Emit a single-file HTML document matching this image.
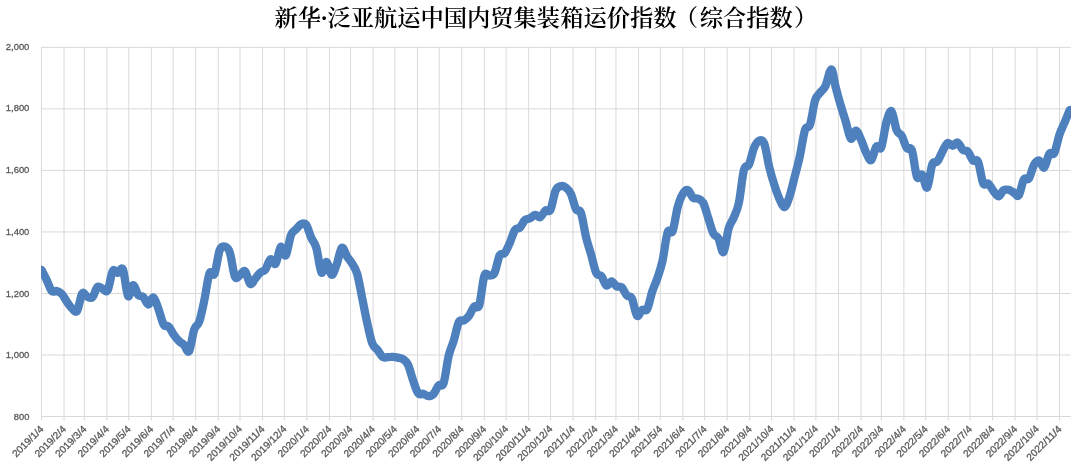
<!DOCTYPE html>
<html lang="zh-CN">
<head>
<meta charset="utf-8">
<title>新华·泛亚航运中国内贸集装箱运价指数（综合指数）</title>
<style>
html,body{margin:0;padding:0;background:#fff;}
body{width:1080px;height:464px;overflow:hidden;}
svg{display:block;will-change:transform;}
.t{font-family:"Liberation Serif","Noto Serif CJK SC",serif;font-weight:600;font-size:23.27px;fill:#000;}
.l{font-family:"Liberation Sans","Noto Sans CJK SC",sans-serif;font-size:9.4px;fill:#595959;stroke:#595959;stroke-width:0.3px;}
.x{font-size:10px;}
</style>
</head>
<body>
<svg width="1080" height="464" viewBox="0 0 1080 464">
<rect width="1080" height="464" fill="#fff"/>
<text class="t" x="274.4" y="26.2">新华<tspan dx="-0.6">·</tspan><tspan dx="-0.6">泛亚航运中国内贸集装箱运价指数</tspan><tspan dx="-1.8">（</tspan><tspan dx="1.8">综合指数</tspan><tspan dx="1.3">）</tspan></text>
<g stroke="#d9d9d9" stroke-width="1" fill="none">
<line x1="41.00" y1="47.40" x2="1070.75" y2="47.40"/>
<line x1="41.00" y1="108.92" x2="1070.75" y2="108.92"/>
<line x1="41.00" y1="170.43" x2="1070.75" y2="170.43"/>
<line x1="41.00" y1="231.95" x2="1070.75" y2="231.95"/>
<line x1="41.00" y1="293.47" x2="1070.75" y2="293.47"/>
<line x1="41.00" y1="354.98" x2="1070.75" y2="354.98"/>
<line x1="41.00" y1="416.50" x2="1070.75" y2="416.50"/>
<line x1="41.50" y1="47.40" x2="41.50" y2="420.50"/>
<line x1="64.04" y1="47.40" x2="64.04" y2="420.50"/>
<line x1="84.40" y1="47.40" x2="84.40" y2="420.50"/>
<line x1="106.94" y1="47.40" x2="106.94" y2="420.50"/>
<line x1="128.76" y1="47.40" x2="128.76" y2="420.50"/>
<line x1="151.30" y1="47.40" x2="151.30" y2="420.50"/>
<line x1="173.11" y1="47.40" x2="173.11" y2="420.50"/>
<line x1="195.65" y1="47.40" x2="195.65" y2="420.50"/>
<line x1="218.20" y1="47.40" x2="218.20" y2="420.50"/>
<line x1="240.01" y1="47.40" x2="240.01" y2="420.50"/>
<line x1="262.55" y1="47.40" x2="262.55" y2="420.50"/>
<line x1="284.36" y1="47.40" x2="284.36" y2="420.50"/>
<line x1="306.91" y1="47.40" x2="306.91" y2="420.50"/>
<line x1="329.45" y1="47.40" x2="329.45" y2="420.50"/>
<line x1="350.53" y1="47.40" x2="350.53" y2="420.50"/>
<line x1="373.08" y1="47.40" x2="373.08" y2="420.50"/>
<line x1="394.89" y1="47.40" x2="394.89" y2="420.50"/>
<line x1="417.43" y1="47.40" x2="417.43" y2="420.50"/>
<line x1="439.25" y1="47.40" x2="439.25" y2="420.50"/>
<line x1="461.79" y1="47.40" x2="461.79" y2="420.50"/>
<line x1="484.33" y1="47.40" x2="484.33" y2="420.50"/>
<line x1="506.14" y1="47.40" x2="506.14" y2="420.50"/>
<line x1="528.68" y1="47.40" x2="528.68" y2="420.50"/>
<line x1="550.50" y1="47.40" x2="550.50" y2="420.50"/>
<line x1="573.04" y1="47.40" x2="573.04" y2="420.50"/>
<line x1="595.58" y1="47.40" x2="595.58" y2="420.50"/>
<line x1="615.94" y1="47.40" x2="615.94" y2="420.50"/>
<line x1="638.48" y1="47.40" x2="638.48" y2="420.50"/>
<line x1="660.30" y1="47.40" x2="660.30" y2="420.50"/>
<line x1="682.84" y1="47.40" x2="682.84" y2="420.50"/>
<line x1="704.65" y1="47.40" x2="704.65" y2="420.50"/>
<line x1="727.19" y1="47.40" x2="727.19" y2="420.50"/>
<line x1="749.73" y1="47.40" x2="749.73" y2="420.50"/>
<line x1="771.55" y1="47.40" x2="771.55" y2="420.50"/>
<line x1="794.09" y1="47.40" x2="794.09" y2="420.50"/>
<line x1="815.90" y1="47.40" x2="815.90" y2="420.50"/>
<line x1="838.45" y1="47.40" x2="838.45" y2="420.50"/>
<line x1="860.99" y1="47.40" x2="860.99" y2="420.50"/>
<line x1="881.35" y1="47.40" x2="881.35" y2="420.50"/>
<line x1="903.89" y1="47.40" x2="903.89" y2="420.50"/>
<line x1="925.70" y1="47.40" x2="925.70" y2="420.50"/>
<line x1="948.24" y1="47.40" x2="948.24" y2="420.50"/>
<line x1="970.06" y1="47.40" x2="970.06" y2="420.50"/>
<line x1="992.60" y1="47.40" x2="992.60" y2="420.50"/>
<line x1="1015.14" y1="47.40" x2="1015.14" y2="420.50"/>
<line x1="1036.95" y1="47.40" x2="1036.95" y2="420.50"/>
<line x1="1059.50" y1="47.40" x2="1059.50" y2="420.50"/>
</g>
<text class="l" x="29.35" y="49.55" text-anchor="end" textLength="23.50" lengthAdjust="spacingAndGlyphs">2,000</text>
<text class="l" x="29.35" y="111.30" text-anchor="end" textLength="23.50" lengthAdjust="spacingAndGlyphs">1,800</text>
<text class="l" x="29.35" y="173.05" text-anchor="end" textLength="23.50" lengthAdjust="spacingAndGlyphs">1,600</text>
<text class="l" x="29.35" y="234.80" text-anchor="end" textLength="23.50" lengthAdjust="spacingAndGlyphs">1,400</text>
<text class="l" x="29.35" y="296.55" text-anchor="end" textLength="23.50" lengthAdjust="spacingAndGlyphs">1,200</text>
<text class="l" x="29.35" y="358.30" text-anchor="end" textLength="23.50" lengthAdjust="spacingAndGlyphs">1,000</text>
<text class="l" x="29.35" y="420.05" text-anchor="end" textLength="15.60" lengthAdjust="spacingAndGlyphs">800</text>
<text class="l x" transform="translate(41.70 427.10) rotate(-45)" text-anchor="end" y="3.60" textLength="39.60" lengthAdjust="spacingAndGlyphs">2019/1/4</text>
<text class="l x" transform="translate(64.24 427.10) rotate(-45)" text-anchor="end" y="3.60" textLength="39.60" lengthAdjust="spacingAndGlyphs">2019/2/4</text>
<text class="l x" transform="translate(84.60 427.10) rotate(-45)" text-anchor="end" y="3.60" textLength="39.60" lengthAdjust="spacingAndGlyphs">2019/3/4</text>
<text class="l x" transform="translate(107.14 427.10) rotate(-45)" text-anchor="end" y="3.60" textLength="39.60" lengthAdjust="spacingAndGlyphs">2019/4/4</text>
<text class="l x" transform="translate(128.96 427.10) rotate(-45)" text-anchor="end" y="3.60" textLength="39.60" lengthAdjust="spacingAndGlyphs">2019/5/4</text>
<text class="l x" transform="translate(151.50 427.10) rotate(-45)" text-anchor="end" y="3.60" textLength="39.60" lengthAdjust="spacingAndGlyphs">2019/6/4</text>
<text class="l x" transform="translate(173.31 427.10) rotate(-45)" text-anchor="end" y="3.60" textLength="39.60" lengthAdjust="spacingAndGlyphs">2019/7/4</text>
<text class="l x" transform="translate(195.85 427.10) rotate(-45)" text-anchor="end" y="3.60" textLength="39.60" lengthAdjust="spacingAndGlyphs">2019/8/4</text>
<text class="l x" transform="translate(218.40 427.10) rotate(-45)" text-anchor="end" y="3.60" textLength="39.60" lengthAdjust="spacingAndGlyphs">2019/9/4</text>
<text class="l x" transform="translate(240.21 427.10) rotate(-45)" text-anchor="end" y="3.60" textLength="44.90" lengthAdjust="spacingAndGlyphs">2019/10/4</text>
<text class="l x" transform="translate(262.75 427.10) rotate(-45)" text-anchor="end" y="3.60" textLength="44.90" lengthAdjust="spacingAndGlyphs">2019/11/4</text>
<text class="l x" transform="translate(284.56 427.10) rotate(-45)" text-anchor="end" y="3.60" textLength="44.90" lengthAdjust="spacingAndGlyphs">2019/12/4</text>
<text class="l x" transform="translate(307.11 427.10) rotate(-45)" text-anchor="end" y="3.60" textLength="39.60" lengthAdjust="spacingAndGlyphs">2020/1/4</text>
<text class="l x" transform="translate(329.65 427.10) rotate(-45)" text-anchor="end" y="3.60" textLength="39.60" lengthAdjust="spacingAndGlyphs">2020/2/4</text>
<text class="l x" transform="translate(350.73 427.10) rotate(-45)" text-anchor="end" y="3.60" textLength="39.60" lengthAdjust="spacingAndGlyphs">2020/3/4</text>
<text class="l x" transform="translate(373.28 427.10) rotate(-45)" text-anchor="end" y="3.60" textLength="39.60" lengthAdjust="spacingAndGlyphs">2020/4/4</text>
<text class="l x" transform="translate(395.09 427.10) rotate(-45)" text-anchor="end" y="3.60" textLength="39.60" lengthAdjust="spacingAndGlyphs">2020/5/4</text>
<text class="l x" transform="translate(417.63 427.10) rotate(-45)" text-anchor="end" y="3.60" textLength="39.60" lengthAdjust="spacingAndGlyphs">2020/6/4</text>
<text class="l x" transform="translate(439.45 427.10) rotate(-45)" text-anchor="end" y="3.60" textLength="39.60" lengthAdjust="spacingAndGlyphs">2020/7/4</text>
<text class="l x" transform="translate(461.99 427.10) rotate(-45)" text-anchor="end" y="3.60" textLength="39.60" lengthAdjust="spacingAndGlyphs">2020/8/4</text>
<text class="l x" transform="translate(484.53 427.10) rotate(-45)" text-anchor="end" y="3.60" textLength="39.60" lengthAdjust="spacingAndGlyphs">2020/9/4</text>
<text class="l x" transform="translate(506.34 427.10) rotate(-45)" text-anchor="end" y="3.60" textLength="44.90" lengthAdjust="spacingAndGlyphs">2020/10/4</text>
<text class="l x" transform="translate(528.88 427.10) rotate(-45)" text-anchor="end" y="3.60" textLength="44.90" lengthAdjust="spacingAndGlyphs">2020/11/4</text>
<text class="l x" transform="translate(550.70 427.10) rotate(-45)" text-anchor="end" y="3.60" textLength="44.90" lengthAdjust="spacingAndGlyphs">2020/12/4</text>
<text class="l x" transform="translate(573.24 427.10) rotate(-45)" text-anchor="end" y="3.60" textLength="39.60" lengthAdjust="spacingAndGlyphs">2021/1/4</text>
<text class="l x" transform="translate(595.78 427.10) rotate(-45)" text-anchor="end" y="3.60" textLength="39.60" lengthAdjust="spacingAndGlyphs">2021/2/4</text>
<text class="l x" transform="translate(616.14 427.10) rotate(-45)" text-anchor="end" y="3.60" textLength="39.60" lengthAdjust="spacingAndGlyphs">2021/3/4</text>
<text class="l x" transform="translate(638.68 427.10) rotate(-45)" text-anchor="end" y="3.60" textLength="39.60" lengthAdjust="spacingAndGlyphs">2021/4/4</text>
<text class="l x" transform="translate(660.50 427.10) rotate(-45)" text-anchor="end" y="3.60" textLength="39.60" lengthAdjust="spacingAndGlyphs">2021/5/4</text>
<text class="l x" transform="translate(683.04 427.10) rotate(-45)" text-anchor="end" y="3.60" textLength="39.60" lengthAdjust="spacingAndGlyphs">2021/6/4</text>
<text class="l x" transform="translate(704.85 427.10) rotate(-45)" text-anchor="end" y="3.60" textLength="39.60" lengthAdjust="spacingAndGlyphs">2021/7/4</text>
<text class="l x" transform="translate(727.39 427.10) rotate(-45)" text-anchor="end" y="3.60" textLength="39.60" lengthAdjust="spacingAndGlyphs">2021/8/4</text>
<text class="l x" transform="translate(749.93 427.10) rotate(-45)" text-anchor="end" y="3.60" textLength="39.60" lengthAdjust="spacingAndGlyphs">2021/9/4</text>
<text class="l x" transform="translate(771.75 427.10) rotate(-45)" text-anchor="end" y="3.60" textLength="44.90" lengthAdjust="spacingAndGlyphs">2021/10/4</text>
<text class="l x" transform="translate(794.29 427.10) rotate(-45)" text-anchor="end" y="3.60" textLength="44.90" lengthAdjust="spacingAndGlyphs">2021/11/4</text>
<text class="l x" transform="translate(816.10 427.10) rotate(-45)" text-anchor="end" y="3.60" textLength="44.90" lengthAdjust="spacingAndGlyphs">2021/12/4</text>
<text class="l x" transform="translate(838.65 427.10) rotate(-45)" text-anchor="end" y="3.60" textLength="39.60" lengthAdjust="spacingAndGlyphs">2022/1/4</text>
<text class="l x" transform="translate(861.19 427.10) rotate(-45)" text-anchor="end" y="3.60" textLength="39.60" lengthAdjust="spacingAndGlyphs">2022/2/4</text>
<text class="l x" transform="translate(881.55 427.10) rotate(-45)" text-anchor="end" y="3.60" textLength="39.60" lengthAdjust="spacingAndGlyphs">2022/3/4</text>
<text class="l x" transform="translate(904.09 427.10) rotate(-45)" text-anchor="end" y="3.60" textLength="39.60" lengthAdjust="spacingAndGlyphs">2022/4/4</text>
<text class="l x" transform="translate(925.90 427.10) rotate(-45)" text-anchor="end" y="3.60" textLength="39.60" lengthAdjust="spacingAndGlyphs">2022/5/4</text>
<text class="l x" transform="translate(948.44 427.10) rotate(-45)" text-anchor="end" y="3.60" textLength="39.60" lengthAdjust="spacingAndGlyphs">2022/6/4</text>
<text class="l x" transform="translate(970.26 427.10) rotate(-45)" text-anchor="end" y="3.60" textLength="39.60" lengthAdjust="spacingAndGlyphs">2022/7/4</text>
<text class="l x" transform="translate(992.80 427.10) rotate(-45)" text-anchor="end" y="3.60" textLength="39.60" lengthAdjust="spacingAndGlyphs">2022/8/4</text>
<text class="l x" transform="translate(1015.34 427.10) rotate(-45)" text-anchor="end" y="3.60" textLength="39.60" lengthAdjust="spacingAndGlyphs">2022/9/4</text>
<text class="l x" transform="translate(1037.15 427.10) rotate(-45)" text-anchor="end" y="3.60" textLength="44.90" lengthAdjust="spacingAndGlyphs">2022/10/4</text>
<text class="l x" transform="translate(1059.70 427.10) rotate(-45)" text-anchor="end" y="3.60" textLength="44.90" lengthAdjust="spacingAndGlyphs">2022/11/4</text>
<clipPath id="c"><rect x="41.00" y="0" width="1030.10" height="464"/></clipPath>
<path clip-path="url(#c)" fill="none" stroke="#4d80bc" stroke-width="8.3" stroke-linejoin="round" stroke-linecap="round" d="M41.50,270.00 C42.35,271.63 44.89,276.30 46.59,279.80 C48.29,283.30 49.98,289.13 51.68,291.00 C53.38,292.87 55.07,290.50 56.77,291.00 C58.47,291.50 60.16,292.20 61.86,294.00 C63.56,295.80 65.25,299.38 66.95,301.80 C68.65,304.22 70.34,307.00 72.04,308.50 C73.74,310.00 75.43,313.30 77.13,310.80 C78.83,308.30 80.52,295.83 82.22,293.50 C83.92,291.17 85.61,296.18 87.31,296.80 C89.01,297.42 90.70,298.83 92.40,297.20 C94.10,295.57 95.79,288.42 97.49,287.00 C99.19,285.58 100.88,288.17 102.58,288.70 C104.28,289.23 105.97,293.15 107.67,290.20 C109.37,287.25 111.06,273.87 112.76,271.00 C114.46,268.13 116.15,273.25 117.85,273.00 C119.55,272.75 121.24,265.67 122.94,269.50 C124.64,273.33 126.33,293.38 128.03,296.00 C129.73,298.62 131.42,285.37 133.12,285.20 C134.82,285.03 136.51,293.03 138.21,295.00 C139.91,296.97 141.60,295.42 143.30,297.00 C145.00,298.58 146.69,304.42 148.39,304.50 C150.09,304.58 151.78,296.72 153.48,297.50 C155.18,298.28 156.87,304.68 158.57,309.20 C160.27,313.72 161.96,321.70 163.66,324.60 C165.36,327.50 167.05,324.90 168.75,326.60 C170.45,328.30 172.14,332.40 173.84,334.80 C175.54,337.20 177.23,339.30 178.93,341.00 C180.63,342.70 182.32,343.30 184.02,345.00 C185.72,346.70 187.41,353.75 189.11,351.20 C190.81,348.65 192.50,334.65 194.20,329.70 C195.90,324.75 197.59,326.45 199.29,321.50 C200.99,316.55 202.68,307.98 204.38,300.00 C206.08,292.02 207.77,278.00 209.47,273.60 C211.17,269.20 212.86,277.48 214.56,273.60 C216.26,269.72 217.95,254.80 219.65,250.30 C221.35,245.80 223.04,246.23 224.74,246.60 C226.44,246.97 228.13,247.50 229.83,252.50 C231.53,257.50 233.22,272.83 234.92,276.60 C236.62,280.37 238.31,275.98 240.01,275.10 C241.71,274.22 243.40,269.83 245.10,271.30 C246.80,272.77 248.49,282.68 250.19,283.90 C251.89,285.12 253.58,280.50 255.28,278.60 C256.98,276.70 258.67,274.03 260.37,272.50 C262.07,270.97 263.76,271.62 265.46,269.40 C267.16,267.18 268.85,260.15 270.55,259.20 C272.25,258.25 273.94,265.73 275.64,263.70 C277.34,261.67 279.03,248.40 280.73,247.00 C282.43,245.60 284.12,257.27 285.82,255.30 C287.52,253.33 289.21,239.53 290.91,235.20 C292.61,230.87 294.30,231.15 296.00,229.30 C297.70,227.45 299.39,224.87 301.09,224.10 C302.79,223.33 304.48,222.42 306.18,224.70 C307.88,226.98 309.57,233.92 311.27,237.80 C312.97,241.68 314.66,242.20 316.36,248.00 C318.06,253.80 319.75,270.27 321.45,272.60 C323.15,274.93 324.84,261.63 326.54,262.00 C328.24,262.37 329.93,274.40 331.63,274.80 C333.33,275.20 335.02,268.90 336.72,264.40 C338.42,259.90 340.11,249.17 341.81,247.80 C343.51,246.43 345.20,253.60 346.90,256.20 C348.60,258.80 350.29,260.52 351.99,263.40 C353.69,266.28 355.38,267.73 357.08,273.50 C358.78,279.27 360.47,289.73 362.17,298.00 C363.87,306.27 365.56,315.50 367.26,323.10 C368.96,330.70 370.65,339.15 372.35,343.60 C374.05,348.05 375.74,347.58 377.44,349.80 C379.14,352.02 380.83,355.67 382.53,356.90 C384.23,358.13 385.92,357.22 387.62,357.20 C389.32,357.18 391.01,356.73 392.71,356.80 C394.41,356.87 396.10,357.22 397.80,357.60 C399.50,357.98 401.19,357.93 402.89,359.10 C404.59,360.27 406.28,361.05 407.98,364.60 C409.68,368.15 411.37,375.62 413.07,380.40 C414.77,385.18 416.46,391.08 418.16,393.30 C419.86,395.52 421.55,393.22 423.25,393.70 C424.95,394.18 426.64,396.13 428.34,396.20 C430.04,396.27 431.73,395.88 433.43,394.10 C435.13,392.32 436.82,387.33 438.52,385.50 C440.22,383.67 441.91,388.05 443.61,383.10 C445.31,378.15 447.00,362.90 448.70,355.80 C450.40,348.70 452.09,346.13 453.79,340.50 C455.49,334.87 457.18,325.33 458.88,322.00 C460.58,318.67 462.27,321.53 463.97,320.50 C465.67,319.47 467.36,318.12 469.06,315.80 C470.75,313.48 472.45,308.38 474.15,306.60 C475.84,304.82 477.54,310.23 479.24,305.10 C480.93,299.97 482.63,280.72 484.33,275.80 C486.02,270.88 487.72,276.10 489.42,275.60 C491.11,275.10 492.81,276.15 494.51,272.80 C496.20,269.45 497.90,258.80 499.60,255.50 C501.29,252.20 502.99,255.08 504.69,253.00 C506.38,250.92 508.08,246.82 509.78,243.00 C511.47,239.18 513.17,232.68 514.87,230.10 C516.56,227.52 518.26,229.20 519.96,227.50 C521.65,225.80 523.35,221.43 525.05,219.90 C526.74,218.37 528.44,219.15 530.14,218.30 C531.83,217.45 533.53,214.98 535.23,214.80 C536.92,214.62 538.62,217.92 540.32,217.20 C542.01,216.48 543.71,211.75 545.41,210.50 C547.10,209.25 548.80,213.02 550.50,209.70 C552.19,206.38 553.89,194.53 555.59,190.60 C557.28,186.67 558.98,186.62 560.68,186.10 C562.37,185.58 564.07,186.23 565.77,187.50 C567.46,188.77 569.16,190.12 570.86,193.70 C572.55,197.28 574.25,205.77 575.95,209.00 C577.64,212.23 579.34,208.35 581.04,213.10 C582.73,217.85 584.43,230.52 586.13,237.50 C587.82,244.48 589.52,249.08 591.22,255.00 C592.91,260.92 594.61,269.48 596.31,273.00 C598.00,276.52 599.70,274.02 601.40,276.10 C603.09,278.18 604.79,284.62 606.49,285.50 C608.18,286.38 609.88,281.27 611.58,281.40 C613.27,281.53 614.97,285.30 616.67,286.30 C618.36,287.30 620.06,285.87 621.76,287.40 C623.45,288.93 625.15,293.63 626.85,295.50 C628.54,297.37 630.24,295.22 631.94,298.60 C633.63,301.98 635.33,313.92 637.03,315.80 C638.72,317.68 640.42,311.05 642.12,309.90 C643.81,308.75 645.51,311.98 647.21,308.90 C648.90,305.82 650.60,296.53 652.30,291.40 C653.99,286.27 655.69,283.17 657.39,278.10 C659.08,273.03 660.78,268.60 662.48,261.00 C664.17,253.40 665.87,237.50 667.57,232.50 C669.26,227.50 670.96,235.27 672.66,231.00 C674.35,226.73 676.05,213.10 677.75,206.90 C679.44,200.70 681.14,196.58 682.84,193.80 C684.53,191.02 686.23,189.55 687.93,190.20 C689.62,190.85 691.32,196.28 693.02,197.70 C694.71,199.12 696.41,197.85 698.11,198.70 C699.80,199.55 701.50,199.57 703.20,202.80 C704.89,206.03 706.59,212.98 708.29,218.10 C709.98,223.22 711.68,230.08 713.38,233.50 C715.07,236.92 716.77,235.48 718.47,238.60 C720.16,241.72 721.86,253.92 723.56,252.20 C725.25,250.48 726.95,234.07 728.65,228.30 C730.34,222.53 732.04,221.82 733.74,217.60 C735.43,213.38 737.13,210.93 738.83,203.00 C740.52,195.07 742.22,176.42 743.92,170.00 C745.61,163.58 747.31,168.22 749.01,164.50 C750.70,160.78 752.40,151.68 754.10,147.70 C755.79,143.72 757.49,141.25 759.19,140.60 C760.88,139.95 762.58,139.32 764.28,143.80 C765.97,148.28 767.67,160.58 769.37,167.50 C771.06,174.42 772.76,180.02 774.46,185.30 C776.15,190.58 777.85,195.58 779.55,199.20 C781.24,202.82 782.94,207.57 784.64,207.00 C786.33,206.43 788.03,200.92 789.73,195.80 C791.42,190.68 793.12,182.97 794.82,176.30 C796.51,169.63 798.21,163.52 799.91,155.80 C801.60,148.08 803.30,135.25 805.00,130.00 C806.69,124.75 808.39,129.28 810.09,124.30 C811.78,119.32 813.48,105.40 815.18,100.10 C816.87,94.80 818.57,94.82 820.27,92.50 C821.96,90.18 823.51,90.07 825.36,86.20 C827.20,82.33 829.65,69.23 831.35,69.30 C833.04,69.37 833.99,80.62 835.54,86.60 C837.08,92.58 838.93,99.38 840.63,105.20 C842.32,111.02 844.02,115.92 845.72,121.50 C847.41,127.08 849.11,137.18 850.81,138.70 C852.50,140.22 854.20,130.47 855.90,130.60 C857.59,130.73 859.29,135.85 860.99,139.50 C862.68,143.15 864.38,149.05 866.08,152.50 C867.77,155.95 869.47,161.17 871.17,160.20 C872.86,159.23 874.56,148.88 876.26,146.70 C877.95,144.52 879.65,151.22 881.35,147.10 C883.04,142.98 884.74,127.98 886.44,122.00 C888.13,116.02 889.83,109.83 891.53,111.20 C893.22,112.57 894.92,126.10 896.62,130.20 C898.31,134.30 900.01,132.83 901.71,135.80 C903.40,138.77 905.10,145.60 906.80,148.00 C908.49,150.40 910.19,145.40 911.89,150.20 C913.58,155.00 915.28,172.73 916.98,176.80 C918.67,180.87 920.37,172.80 922.07,174.60 C923.76,176.40 925.46,189.27 927.16,187.60 C928.85,185.93 930.55,168.95 932.25,164.60 C933.94,160.25 935.64,163.68 937.34,161.50 C939.03,159.32 940.73,154.58 942.43,151.50 C944.12,148.42 945.82,143.95 947.52,143.00 C949.21,142.05 950.91,145.88 952.61,145.80 C954.30,145.72 956.00,141.83 957.70,142.50 C959.39,143.17 961.09,148.30 962.79,149.80 C964.48,151.30 966.18,149.72 967.88,151.50 C969.57,153.28 971.27,158.80 972.97,160.50 C974.66,162.20 976.36,157.92 978.06,161.70 C979.75,165.48 981.45,179.55 983.15,183.20 C984.84,186.85 986.54,182.33 988.24,183.60 C989.93,184.87 991.63,188.68 993.33,190.80 C995.02,192.92 996.72,196.38 998.42,196.30 C1000.11,196.22 1001.81,191.38 1003.51,190.30 C1005.20,189.22 1006.90,189.43 1008.60,189.80 C1010.29,190.17 1011.99,191.58 1013.69,192.50 C1015.38,193.42 1017.08,197.48 1018.78,195.30 C1020.47,193.12 1022.17,182.22 1023.87,179.40 C1025.56,176.58 1027.26,180.85 1028.96,178.40 C1030.65,175.95 1032.35,167.70 1034.05,164.70 C1035.74,161.70 1037.44,159.92 1039.14,160.40 C1040.83,160.88 1042.53,168.70 1044.23,167.60 C1045.92,166.50 1047.62,156.28 1049.32,153.80 C1051.01,151.32 1052.71,155.92 1054.41,152.70 C1056.10,149.48 1057.80,139.53 1059.50,134.50 C1061.19,129.47 1062.89,126.58 1064.59,122.50 C1066.28,118.42 1068.83,112.08 1069.68,110.00"/>
</svg>
</body>
</html>
